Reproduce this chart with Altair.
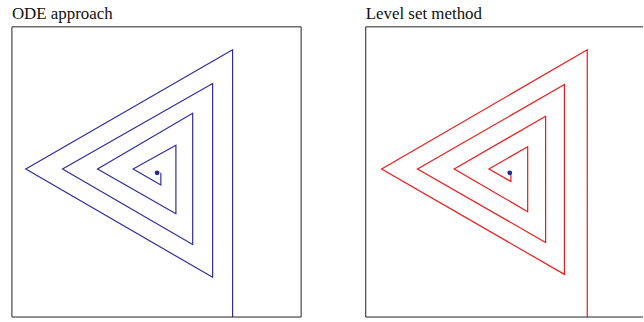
import altair as alt
import pandas as pd

# Spiral vertices (in a 0-100 square), traced from the start on the bottom edge inward
ode_x = [76.3, 76.3, 4.8, 69.4, 69.4, 17.5, 62.5, 62.5, 29.6, 56.7, 56.7, 41.9, 51.5, 51.5]
ode_y = [0.0, 92.1, 51.0, 13.7, 80.5, 51.0, 25.0, 70.2, 51.0, 35.6, 59.2, 51.0, 45.5, 49.7]

lsm_x = [76.6, 76.6, 5.5, 68.7, 68.7, 17.9, 62.2, 62.2, 30.6, 56.0, 56.0, 42.6, 50.2, 50.2]
lsm_y = [0.0, 92.1, 51.0, 14.7, 80.1, 51.0, 25.7, 69.2, 51.0, 36.3, 58.7, 51.0, 46.7, 49.3]

# Target point at the centre of each spiral
ode_dot = (50.2, 49.7)
lsm_dot = (49.8, 49.7)

H = 292
FULL_W = 291
RIGHT_W = 279  # the right frame runs past the edge of the page
FRAME = "#222"


def panel(xs, ys, dot, color, title, width, open_right=False):
    path = pd.DataFrame({"x": xs, "y": ys, "step": list(range(len(xs)))})
    pt = pd.DataFrame({"x": [dot[0]], "y": [dot[1]]})
    xsc = alt.Scale(domain=[0, 100 * width / FULL_W], nice=False, zero=False)
    ysc = alt.Scale(domain=[0, 100], nice=False, zero=False)
    line = alt.Chart(path).mark_line(color=color, strokeWidth=1.2).encode(
        x=alt.X("x:Q", scale=xsc, axis=None),
        y=alt.Y("y:Q", scale=ysc, axis=None),
        order="step:Q",
    )
    point = alt.Chart(pt).mark_circle(color="#2a2a8c", size=24, opacity=1).encode(
        x=alt.X("x:Q", scale=xsc, axis=None),
        y=alt.Y("y:Q", scale=ysc, axis=None),
    )
    label = alt.Chart(pd.DataFrame({"t": [title]})).mark_text(
        font="Liberation Serif",
        fontSize=17,
        color="#111",
        align="left",
        baseline="alphabetic",
    ).encode(text="t:N", x=alt.value(0), y=alt.value(-8.3))

    # frame drawn as rules so the right panel can stay open on its right side
    frame = alt.Chart(pd.DataFrame({"k": [0]}))
    edges = [
        frame.mark_rule(color=FRAME, strokeWidth=1).encode(
            x=alt.value(0), x2=alt.value(width), y=alt.value(0)
        ),
        frame.mark_rule(color=FRAME, strokeWidth=1).encode(
            x=alt.value(0), x2=alt.value(width), y=alt.value(H)
        ),
        frame.mark_rule(color=FRAME, strokeWidth=1).encode(
            x=alt.value(0), y=alt.value(0), y2=alt.value(H)
        ),
    ]
    if not open_right:
        edges.append(
            frame.mark_rule(color=FRAME, strokeWidth=1).encode(
                x=alt.value(width), y=alt.value(0), y2=alt.value(H)
            )
        )
    return alt.layer(line, point, label, *edges).properties(width=width, height=H)


left = panel(ode_x, ode_y, ode_dot, "#2e2e9e", "ODE approach", FULL_W)
right = panel(lsm_x, lsm_y, lsm_dot, "#f01818", "Level set method", RIGHT_W, open_right=True)

chart = alt.hconcat(left, right, spacing=63).properties(
    padding={"left": 11, "top": 3, "right": 0, "bottom": 5},
    background="white",
).configure_view(strokeOpacity=0)

chart.save("out.html", embed_options={"renderer": "svg", "actions": False})
